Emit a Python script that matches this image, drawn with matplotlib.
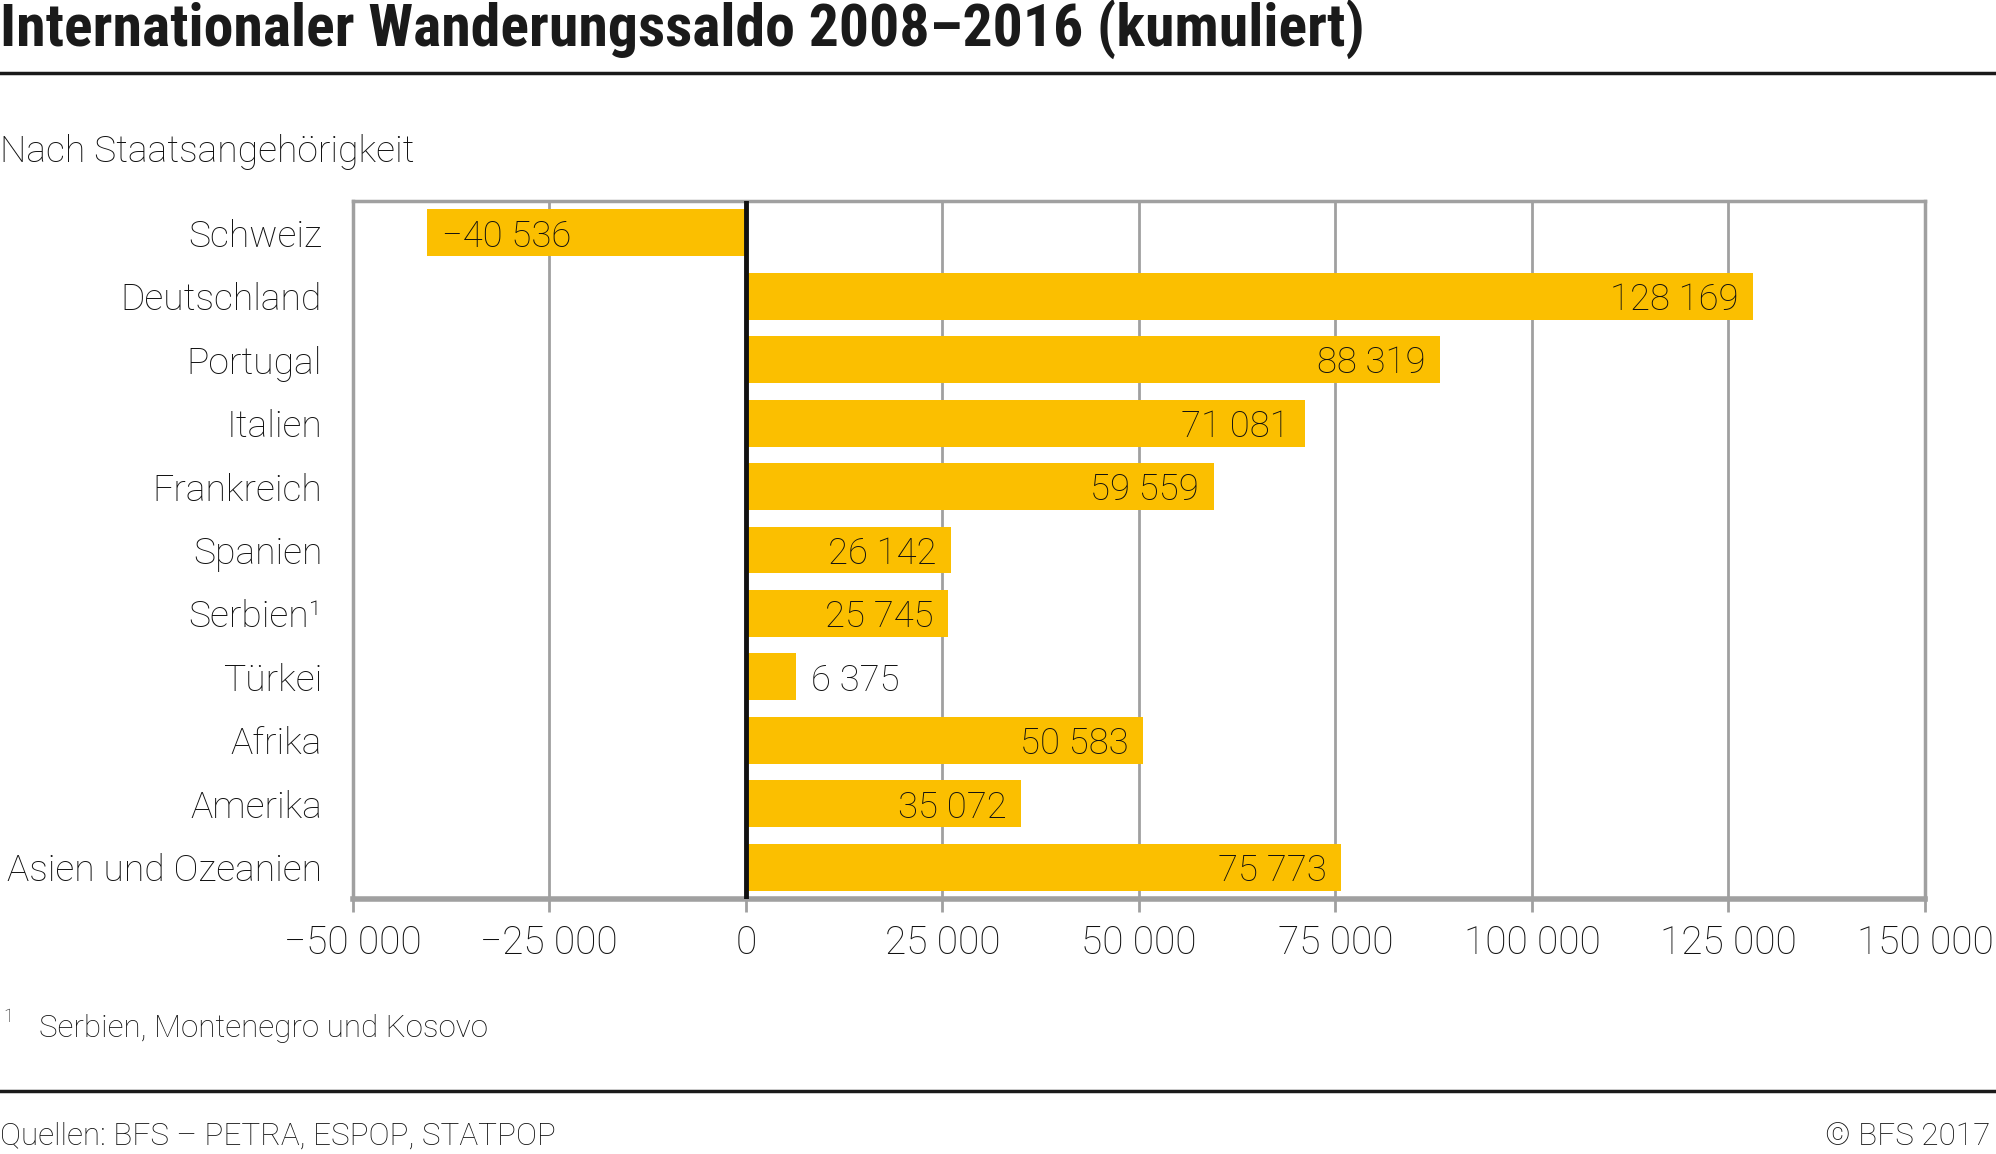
import matplotlib
matplotlib.use("Agg")
import matplotlib.pyplot as plt
from matplotlib import font_manager

names = {f.name for f in font_manager.fontManager.ttflist}
title_font = "Roboto Condensed" if "Roboto Condensed" in names else "Roboto"
plt.rcParams['font.family'] = ['Roboto', 'DejaVu Sans']

categories = ["Schweiz", "Deutschland", "Portugal", "Italien", "Frankreich", "Spanien",
              "Serbien¹", "Türkei", "Afrika", "Amerika", "Asien und Ozeanien"]
values = [-40536, 128169, 88319, 71081, 59559, 26142, 25745, 6375, 50583, 35072, 75773]
xticks = [-50000, -25000, 0, 25000, 50000, 75000, 100000, 125000, 150000]

bar_color = "#FBBF00"
grid_color = "#A0A0A0"
text_color = "#111111"


def fmt(v):
    s = f"{abs(v):,}".replace(",", " ")
    return ("\u2212" if v < 0 else "") + s


fig = plt.figure(figsize=(19.96, 11.54), dpi=100)
ax = fig.add_axes([0.1767, 0.221, 0.9644 - 0.1767, 0.8258 - 0.221])

y = list(range(len(categories)))
ax.barh(y, values, height=0.74, color=bar_color, zorder=2)
ax.set_ylim(len(categories) - 0.5, -0.5)
ax.set_xlim(-50000, 150000)
ax.set_xticks(xticks)
ax.set_xticklabels([fmt(t) for t in xticks])
ax.set_yticks(y)
ax.set_yticklabels(categories)
ax.tick_params(axis='y', length=0, pad=22, labelsize=26.8, labelcolor=text_color)
ax.tick_params(axis='x', length=9.5, width=2, color=grid_color, pad=9, labelsize=28,
               labelcolor=text_color)
for lab in ax.get_xticklabels() + ax.get_yticklabels():
    lab.set_fontweight('light')

ax.grid(axis='x', color=grid_color, linewidth=2, zorder=1)
ax.set_axisbelow(True)
for side in ['top', 'left', 'right']:
    ax.spines[side].set_color(grid_color)
    ax.spines[side].set_linewidth(2.5)
ax.spines['bottom'].set_color(grid_color)
ax.spines['bottom'].set_linewidth(4)
ax.axvline(0, color="#111111", linewidth=3.5, zorder=3)

pad = 15 * 200000 / (1925 - 352.6)
for yi, v in zip(y, values):
    if v < 0 or v < 15000:
        ax.text(v + pad, yi + 0.06, fmt(v), ha='left', va='center', fontsize=26.3,
                fontweight='light', color=text_color, zorder=4)
    else:
        ax.text(v - pad, yi + 0.06, fmt(v), ha='right', va='center', fontsize=26.3,
                fontweight='light', color=text_color, zorder=4)

fig.text(0.0, 0.9593, "Internationaler Wanderungssaldo 2008\u20132016 (kumuliert)",
         fontsize=43, fontweight='bold', family=[title_font, 'DejaVu Sans'],
         color="#1A1A1A", va='baseline', ha='left')
fig.add_artist(plt.Line2D([0, 1], [0.937, 0.937], color="#1A1A1A", linewidth=2.5,
                          transform=fig.transFigure))
fig.text(0.0, 0.860, "Nach Staatsangehörigkeit", fontsize=26.8, fontweight='light',
         color=text_color, va='baseline', ha='left')

fig.text(0.0015, 0.1144, "1", fontsize=13, fontweight='light', color=text_color,
         va='baseline', ha='left')
fig.text(0.0195, 0.1014, "Serbien, Montenegro und Kosovo", fontsize=22.6, fontweight='light',
         color=text_color, va='baseline', ha='left')
fig.add_artist(plt.Line2D([0, 1], [0.0546, 0.0546], color="#1A1A1A", linewidth=2.5,
                          transform=fig.transFigure))
fig.text(0.0, 0.008, "Quellen: BFS \u2013 PETRA, ESPOP, STATPOP", fontsize=22.7,
         fontweight='light', color=text_color, va='baseline', ha='left')
fig.text(0.997, 0.008, "© BFS 2017", fontsize=22.7, fontweight='light',
         color=text_color, va='baseline', ha='right')

fig.savefig("out.png", dpi=100)
